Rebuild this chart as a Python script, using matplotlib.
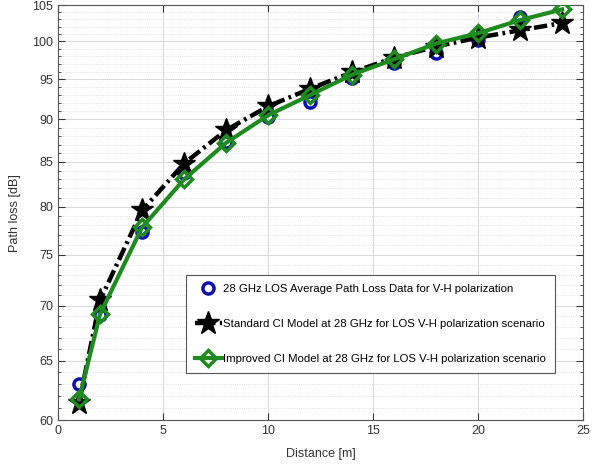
import matplotlib
matplotlib.use("Agg")
import matplotlib.pyplot as plt
from matplotlib.ticker import FixedLocator, NullFormatter, FuncFormatter

# Distances [m]
distance = [1, 2, 4, 6, 8, 10, 12, 14, 16, 18, 20, 22, 24]
distance_meas = [1, 2, 4, 6, 8, 10, 12, 14, 16, 18, 20, 22]

# Measured average path loss [dB]
pl_measured = [63.0, 69.1, 77.3, 83.7, 87.3, 90.3, 92.2, 95.2, 97.1, 98.5, 100.2, 103.3]
# Standard CI model [dB]
pl_standard = [61.4, 70.5, 79.6, 84.8, 88.7, 91.6, 93.8, 95.9, 97.8, 99.3, 100.5, 101.5, 102.5]
# Improved CI model [dB]
pl_improved = [61.7, 69.2, 77.8, 83.0, 87.2, 90.5, 93.0, 95.6, 97.6, 99.7, 101.1, 102.9, 104.4]

x_ticks = [0, 5, 10, 15, 20, 25]
y_ticks = [60, 65, 70, 75, 80, 85, 90, 95, 100, 105]

labels = [
    "28 GHz LOS Average Path Loss Data for V-H polarization",
    "Standard CI Model at 28 GHz for LOS V-H polarization scenario",
    "Improved CI Model at 28 GHz for LOS V-H polarization scenario",
]

plt.rcParams["font.family"] = ["Liberation Sans", "DejaVu Sans"]

fig = plt.figure(figsize=(5.95, 4.66), dpi=100)
ax = fig.add_axes([0.0975, 0.0987, 0.8825, 0.8903])

green = "#1f8a1f"

ax.plot(distance_meas, pl_measured, linestyle="none", marker="o",
        markersize=8, markerfacecolor="none", markeredgecolor="#1010b0",
        markeredgewidth=2.5, label=labels[0], zorder=3)
ax.plot(distance, pl_standard, color="black", linestyle=(0, (3.0, 1.0, 0.6, 1.0)),
        linewidth=3.2, marker="*", markersize=17, markerfacecolor="black",
        markeredgecolor="black", label=labels[1], zorder=4)
ax.plot(distance, pl_improved, color=green, linestyle="-", linewidth=3,
        marker="D", markersize=8.5, markerfacecolor="none",
        markeredgecolor=green, markeredgewidth=2.5, label=labels[2], zorder=5)

ax.set_yscale("log")
ax.set_xlim(0, 25)
ax.set_ylim(60, 105)
ax.xaxis.set_major_locator(FixedLocator(x_ticks))
ax.yaxis.set_major_locator(FixedLocator(y_ticks))
ax.yaxis.set_major_formatter(FuncFormatter(lambda v, p: f"{v:g}"))
ax.yaxis.set_minor_locator(FixedLocator(list(range(60, 106))))
ax.yaxis.set_minor_formatter(NullFormatter())

ax.grid(True, which="major", color="#d8d8d8", linewidth=0.7, linestyle="-")
ax.grid(True, which="minor", axis="y", color="#d8d8d8", linewidth=0.6, linestyle=":")
ax.set_axisbelow(True)

ax.tick_params(which="both", direction="in", top=True, right=True,
               labelsize=9, colors="#333333")
ax.tick_params(which="major", length=5)
ax.tick_params(which="minor", length=2.5)
for s in ax.spines.values():
    s.set_color("#555555")
    s.set_linewidth(0.8)

ax.set_xlabel("Distance [m]", fontsize=9, color="#333333", labelpad=8)
ax.set_ylabel("Path loss [dB]", fontsize=9, color="#333333", labelpad=8)

leg = ax.legend(loc="lower right", bbox_to_anchor=(0.947, 0.113),
                fontsize=8.2, frameon=True, fancybox=False,
                edgecolor="#555555", framealpha=1, borderpad=0.8,
                labelspacing=2.2, handlelength=2.3, handletextpad=0.15,
                borderaxespad=0.0, markerscale=1.0)
leg.get_frame().set_linewidth(0.8)

fig.savefig("out.png", dpi=100)
